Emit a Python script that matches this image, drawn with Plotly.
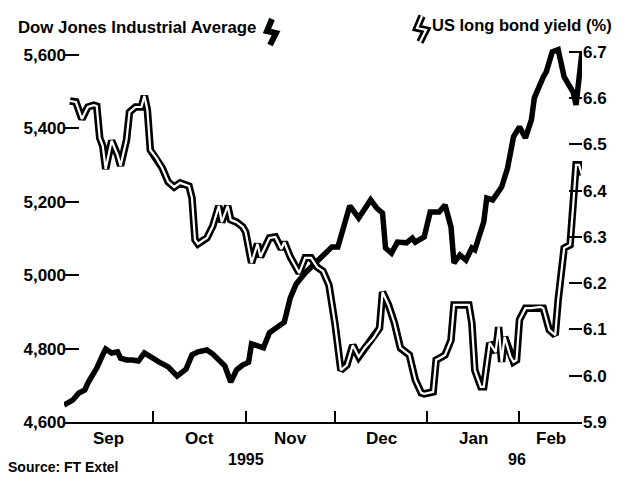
import pandas as pd
import plotly.graph_objects as go

# --- Dow Jones Industrial Average (left axis) ---
dow_dates = [
    "1995-09-01", "1995-09-04", "1995-09-06", "1995-09-08", "1995-09-09", "1995-09-11",
    "1995-09-12", "1995-09-14", "1995-09-15", "1995-09-17", "1995-09-19", "1995-09-20",
    "1995-09-22", "1995-09-24", "1995-09-26", "1995-09-28", "1995-09-30", "1995-10-03",
    "1995-10-06", "1995-10-09", "1995-10-12", "1995-10-14", "1995-10-16", "1995-10-19",
    "1995-10-21", "1995-10-23", "1995-10-25", "1995-10-27", "1995-10-29", "1995-10-31",
    "1995-11-02", "1995-11-03", "1995-11-07", "1995-11-09", "1995-11-12", "1995-11-14",
    "1995-11-16", "1995-11-18", "1995-11-21", "1995-11-23", "1995-11-26", "1995-11-30",
    "1995-12-02", "1995-12-04", "1995-12-06", "1995-12-09", "1995-12-11", "1995-12-13",
    "1995-12-15", "1995-12-17", "1995-12-18", "1995-12-20", "1995-12-22", "1995-12-25",
    "1995-12-27", "1995-12-28", "1995-12-31", "1996-01-02", "1996-01-05", "1996-01-07",
    "1996-01-09", "1996-01-10", "1996-01-12", "1996-01-14", "1996-01-16", "1996-01-17",
    "1996-01-20", "1996-01-21", "1996-01-23", "1996-01-25", "1996-01-26", "1996-01-28",
    "1996-01-30", "1996-02-01", "1996-02-03", "1996-02-05", "1996-02-06", "1996-02-09",
    "1996-02-10", "1996-02-12", "1996-02-14", "1996-02-16", "1996-02-19", "1996-02-20",
    "1996-02-22",
]
dow_values = [
    4646, 4660, 4679, 4687, 4706, 4734,
    4747, 4783, 4799, 4788, 4791, 4774,
    4769, 4769, 4766, 4788, 4777, 4763,
    4750, 4725, 4744, 4783, 4791, 4796,
    4785, 4769, 4753, 4709, 4742, 4755,
    4763, 4813, 4802, 4843, 4859, 4872,
    4938, 4976, 5006, 5022, 5050, 5077,
    5077, 5129, 5189, 5156, 5178, 5205,
    5183, 5169, 5074, 5060, 5090, 5088,
    5101, 5090, 5104, 5172, 5172, 5191,
    5131, 5033, 5055, 5041, 5074, 5069,
    5145, 5210, 5205, 5232, 5240, 5292,
    5377, 5404, 5374, 5423, 5483, 5540,
    5554, 5608, 5614, 5540, 5499, 5464,
    5608,
]

# --- US long bond yield, % (right axis) ---
bond_dates = [
    "1995-09-03", "1995-09-05", "1995-09-07", "1995-09-09", "1995-09-11", "1995-09-12",
    "1995-09-13", "1995-09-14", "1995-09-15", "1995-09-17", "1995-09-19", "1995-09-20",
    "1995-09-22", "1995-09-23", "1995-09-25", "1995-09-27", "1995-09-28", "1995-09-29",
    "1995-09-30", "1995-10-02", "1995-10-04", "1995-10-06", "1995-10-08", "1995-10-10",
    "1995-10-13", "1995-10-14", "1995-10-15", "1995-10-16", "1995-10-18", "1995-10-19",
    "1995-10-21", "1995-10-23", "1995-10-24", "1995-10-26", "1995-10-27", "1995-10-29",
    "1995-10-31", "1995-11-01", "1995-11-03", "1995-11-05", "1995-11-06", "1995-11-09",
    "1995-11-11", "1995-11-13", "1995-11-14", "1995-11-16", "1995-11-19", "1995-11-21",
    "1995-11-23", "1995-11-25", "1995-11-27", "1995-11-29", "1995-12-01", "1995-12-03",
    "1995-12-05", "1995-12-07", "1995-12-09", "1995-12-11", "1995-12-14", "1995-12-16",
    "1995-12-17", "1995-12-19", "1995-12-21", "1995-12-23", "1995-12-26", "1995-12-28",
    "1995-12-30", "1995-12-31", "1996-01-03", "1996-01-04", "1996-01-06", "1996-01-07",
    "1996-01-09", "1996-01-10", "1996-01-12", "1996-01-15", "1996-01-16", "1996-01-17",
    "1996-01-19", "1996-01-20", "1996-01-22", "1996-01-24", "1996-01-25", "1996-01-26",
    "1996-01-27", "1996-01-29", "1996-01-30", "1996-01-31", "1996-02-01", "1996-02-03",
    "1996-02-05", "1996-02-08", "1996-02-09", "1996-02-11", "1996-02-13", "1996-02-14",
    "1996-02-16", "1996-02-18", "1996-02-19", "1996-02-20", "1996-02-21", "1996-02-22",
]
bond_values = [
    6.594, 6.592, 6.555, 6.581, 6.585, 6.583,
    6.514, 6.497, 6.447, 6.508, 6.477, 6.454,
    6.510, 6.570, 6.581, 6.581, 6.605, 6.575,
    6.488, 6.471, 6.449, 6.419, 6.408, 6.417,
    6.410, 6.384, 6.294, 6.285, 6.294, 6.298,
    6.324, 6.367, 6.332, 6.367, 6.337, 6.332,
    6.322, 6.311, 6.244, 6.285, 6.257, 6.298,
    6.300, 6.274, 6.289, 6.257, 6.222, 6.255,
    6.255, 6.235, 6.226, 6.196, 6.114, 6.012,
    6.023, 6.066, 6.041, 6.060, 6.082, 6.103,
    6.181, 6.153, 6.114, 6.060, 6.045, 5.991,
    5.963, 5.961, 5.965, 6.034, 6.041, 6.045,
    6.077, 6.153, 6.153, 6.153, 6.114, 6.012,
    5.976, 5.976, 6.071, 6.051, 6.105, 6.030,
    6.084, 6.041, 6.030, 6.034, 6.121, 6.146,
    6.146, 6.149, 6.146, 6.099, 6.088, 6.164,
    6.276, 6.283, 6.365, 6.456, 6.456, 6.434,
]

# Axis ticks and labels
month_starts = ["1995-09-01", "1995-10-01", "1995-11-01", "1995-12-01",
                "1996-01-01", "1996-02-01"]
x_end = "1996-02-22"
month_names = ["Sep", "Oct", "Nov", "Dec", "Jan", "Feb"]
year_labels = ["1995", "96"]
year_dates = ["1995-11-01", "1996-01-31"]
dow_ticks = [4600, 4800, 5000, 5200, 5400, 5600]
bond_ticks = [5.9, 6.0, 6.1, 6.2, 6.3, 6.4, 6.5, 6.6, 6.7]

W, H = 626, 485
ML, MR, MT, MB = 64, 44, 45, 63
PW, PH = W - ML - MR, H - MT - MB

FONT = "Liberation Sans, Arial, Helvetica, sans-serif"


def paper_x(px):
    return (px - ML) / PW


def paper_y(py):
    return (H - MB - py) / PH


fig = go.Figure()

# bond yield: black outline with a white core
fig.add_trace(go.Scatter(x=bond_dates, y=bond_values, yaxis="y2", mode="lines",
                         line=dict(color="black", width=7.5), hoverinfo="skip",
                         showlegend=False))
fig.add_trace(go.Scatter(x=bond_dates, y=bond_values, yaxis="y2", mode="lines",
                         line=dict(color="white", width=2.2), name="US long bond yield (%)",
                         showlegend=False))
# Dow: solid black line
fig.add_trace(go.Scatter(x=dow_dates, y=dow_values, mode="lines",
                         line=dict(color="black", width=5.5),
                         name="Dow Jones Industrial Average", showlegend=False))

tick_dates = month_starts + [x_end]
ts = pd.to_datetime(tick_dates)
mids = [ts[i] + (ts[i + 1] - ts[i]) / 2 for i in range(len(ts) - 1)]

annotations = []
for name, m in zip(month_names, mids):
    annotations.append(dict(x=m, xref="x", y=paper_y(438), yref="paper", text=name,
                            showarrow=False, xanchor="center", yanchor="middle",
                            font=dict(family=FONT, size=17, color="black", weight="bold")))
for lab, d in zip(year_labels, year_dates):
    annotations.append(dict(x=d, xref="x", y=paper_y(459), yref="paper", text=lab,
                            showarrow=False, xanchor="center", yanchor="middle",
                            font=dict(family=FONT, size=16, color="black", weight="bold")))

annotations += [
    dict(x=paper_x(16), y=paper_y(27), xref="paper", yref="paper",
         text="Dow Jones Industrial Average", showarrow=False,
         xanchor="left", yanchor="middle",
         font=dict(family=FONT, size=16.8, color="black", weight="bold")),
    dict(x=paper_x(430), y=paper_y(25), xref="paper", yref="paper",
         text="US long bond yield (%)", showarrow=False,
         xanchor="left", yanchor="middle",
         font=dict(family=FONT, size=16.5, color="black", weight="bold")),
    dict(x=paper_x(6), y=paper_y(467), xref="paper", yref="paper",
         text="Source: FT Extel", showarrow=False,
         xanchor="left", yanchor="middle",
         font=dict(family=FONT, size=14, color="black", weight="bold")),
]


def bolt_path(x0, y0):
    pts = [(x0 + 9, y0 + 1), (x0 + 4, y0 + 13), (x0 + 13, y0 + 15), (x0 + 7, y0 + 27)]
    return "M " + " L ".join(f"{paper_x(a):.5f},{paper_y(b):.5f}" for a, b in pts)


shapes = [
    # legend key for the Dow (solid)
    dict(type="path", xref="paper", yref="paper", path=bolt_path(263, 18),
         line=dict(color="black", width=6)),
    # legend key for the bond yield (outlined)
    dict(type="path", xref="paper", yref="paper", path=bolt_path(413, 15),
         line=dict(color="black", width=7.5)),
    dict(type="path", xref="paper", yref="paper", path=bolt_path(413, 15),
         line=dict(color="white", width=2.2)),
]

fig.update_layout(
    width=W, height=H,
    margin=dict(l=ML, r=MR, t=MT, b=MB, autoexpand=False),
    paper_bgcolor="white", plot_bgcolor="white",
    font=dict(family=FONT, size=17, color="black", weight="bold"),
    xaxis=dict(type="date", range=[month_starts[0], x_end],
               tickvals=tick_dates, showticklabels=False,
               ticks="inside", ticklen=11, tickwidth=2, tickcolor="black",
               showline=True, linecolor="black", linewidth=2,
               showgrid=False, zeroline=False, fixedrange=True),
    yaxis=dict(range=[4600, 5627], tickvals=dow_ticks, tickformat=",d",
               ticks="inside", ticklen=15, tickwidth=2, tickcolor="black",
               ticklabelstandoff=-3,
               showline=False, showgrid=False, zeroline=False,
               tickfont=dict(family=FONT, size=17, weight="bold")),
    yaxis2=dict(range=[5.9, 6.715], tickvals=bond_ticks, tickformat=".1f",
                overlaying="y", side="right",
                ticks="inside", ticklen=13, tickwidth=2, tickcolor="black",
                showline=False, showgrid=False, zeroline=False,
                tickfont=dict(family=FONT, size=17, weight="bold")),
    annotations=annotations,
    shapes=shapes,
    showlegend=False,
)

fig.write_html("out.html")
